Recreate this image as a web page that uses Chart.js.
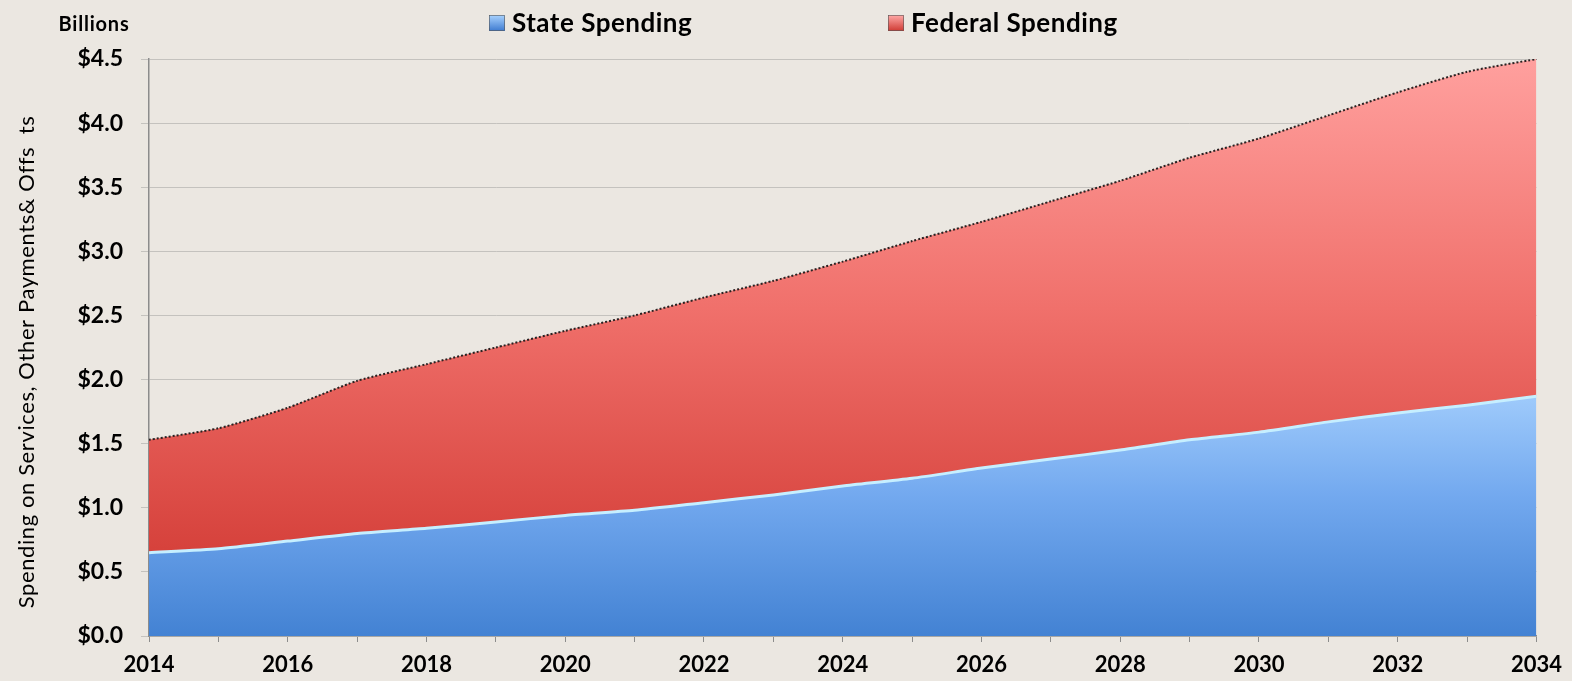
<!DOCTYPE html>
<html lang="en">
<head>
  <meta charset="UTF-8">
  <script src="https://cdn.jsdelivr.net/npm/chart.js"></script>
  <title>Spending</title>
  <style>
    html, body { margin: 0; padding: 0; background: #ebe7e1; }
    #wrap { width: 1572px; height: 681px; position: relative; }
  </style>
</head>
<body>
<div id="wrap">
  <canvas id="myChart" width="1572" height="681"></canvas>
</div>

<script>
// years on the x axis
var years = ['2014','2015','2016','2017','2018','2019','2020','2021','2022','2023','2024',
             '2025','2026','2027','2028','2029','2030','2031','2032','2033','2034'];

// billions of dollars
var stateSpending = [0.65,0.68,0.74,0.80,0.84,0.89,0.94,0.98,1.04,1.10,1.17,
                     1.23,1.31,1.38,1.45,1.53,1.59,1.67,1.74,1.80,1.87];
var federalSpending = [0.88,0.94,1.04,1.19,1.28,1.36,1.44,1.52,1.60,1.67,1.75,
                       1.85,1.92,2.01,2.10,2.20,2.29,2.39,2.50,2.60,2.63];

var seriesNames = ['State Spending', 'Federal Spending'];
var yTitle = 'Spending on Services, Other Payments& Offs  ts';
var unitLabel = 'Billions';

var FONT = 'Lato, "Open Sans", sans-serif';

function blueFill(context) {
  var chart = context.chart;
  var ca = chart.chartArea;
  if (!ca) return '#5b97e2';
  var y = chart.scales.y;
  var g = chart.ctx.createLinearGradient(0, y.getPixelForValue(2.0), 0, y.getPixelForValue(0));
  g.addColorStop(0, '#a6d0fd');
  g.addColorStop(0.45, '#73a9ef');
  g.addColorStop(1, '#4382d3');
  return g;
}

function redFill(context) {
  var chart = context.chart;
  var ca = chart.chartArea;
  if (!ca) return '#e55a54';
  var y = chart.scales.y;
  var g = chart.ctx.createLinearGradient(0, y.getPixelForValue(4.5), 0, y.getPixelForValue(0.6));
  g.addColorStop(0, '#ffa09e');
  g.addColorStop(0.5, '#f0706b');
  g.addColorStop(1, '#d5403a');
  return g;
}

// legend, "Billions" and the rotated axis title
var extras = {
  id: 'extras',
  afterDraw: function (chart) {
    var ctx = chart.ctx;
    ctx.save();
    ctx.fillStyle = '#000';
    ctx.textBaseline = 'middle';

    ctx.font = 'bold 20px ' + FONT;
    ctx.letterSpacing = '0.8px';
    ctx.textAlign = 'center';
    ctx.fillText(unitLabel, 94, 25);

    var items = [
      { x: 489, text: seriesNames[0], c1: '#a9d3ff', c2: '#3e7bd0' },
      { x: 888, text: seriesNames[1], c1: '#ffaaa8', c2: '#cf3a33' }
    ];
    ctx.font = 'bold 26px ' + FONT;
    ctx.letterSpacing = '0.5px';
    ctx.textAlign = 'left';
    items.forEach(function (it) {
      var g = ctx.createLinearGradient(0, 15, 0, 31);
      g.addColorStop(0, it.c1);
      g.addColorStop(1, it.c2);
      ctx.fillStyle = g;
      ctx.fillRect(it.x, 15, 16, 16);
      ctx.strokeStyle = '#555';
      ctx.lineWidth = 0.6;
      ctx.strokeRect(it.x + 0.5, 15.5, 15, 15);
      ctx.fillStyle = '#000';
      ctx.fillText(it.text, it.x + 23, 24);
    });

    ctx.translate(27, 362);
    ctx.rotate(-Math.PI / 2);
    ctx.textAlign = 'center';
    ctx.font = '22px ' + FONT;
    ctx.letterSpacing = '0.6px';
    ctx.fillText(yTitle, 0, 0);
    ctx.restore();
  }
};

var dados = {
  labels: years,
  datasets: [
    {
      label: seriesNames[0],
      data: stateSpending,
      fill: 'origin',
      backgroundColor: blueFill,
      borderColor: '#c6efff',
      borderWidth: 3,
      pointRadius: 0,
      tension: 0.2
    },
    {
      label: seriesNames[1],
      data: federalSpending,
      fill: '-1',
      backgroundColor: redFill,
      borderColor: '#2a2222',
      borderWidth: 2,
      borderDash: [2, 2],
      pointRadius: 0,
      tension: 0.2
    }
  ]
};

const config = {
  type: 'line',
  data: dados,
  options: {
    responsive: false,
    animation: false,
    layout: { padding: { left: 0, right: 29, top: 59, bottom: 0 } },
    plugins: {
      legend: { display: false },
      tooltip: { enabled: false }
    },
    scales: {
      x: {
        offset: false,
        grid: {
          drawOnChartArea: false,
          color: '#8c8c8c',
          tickLength: 6
        },
        border: { color: '#8c8c8c', width: 1.5 },
        ticks: {
          autoSkip: false,
          maxRotation: 0,
          padding: 10,
          color: '#000',
          font: { family: FONT, size: 22, weight: 'bold' },
          callback: function (v, i) { return i % 2 === 0 ? years[i] : ''; }
        },
        afterFit: function (scale) { scale.height = 45; }
      },
      y: {
        stacked: true,
        min: 0,
        max: 4.5,
        grid: {
          color: '#c4c2be',
          lineWidth: 1,
          tickLength: 8
        },
        border: { color: '#8c8c8c', width: 1.5 },
        ticks: {
          stepSize: 0.5,
          padding: 18,
          color: '#000',
          font: { family: FONT, size: 23, weight: 'bold' },
          callback: function (v) { return '$' + Number(v).toFixed(1); }
        },
        afterFit: function (scale) { scale.width = 149; }
      }
    }
  },
  plugins: [extras]
};

let myChart = new Chart(document.getElementById('myChart'), config);
</script>
</body>
</html>
